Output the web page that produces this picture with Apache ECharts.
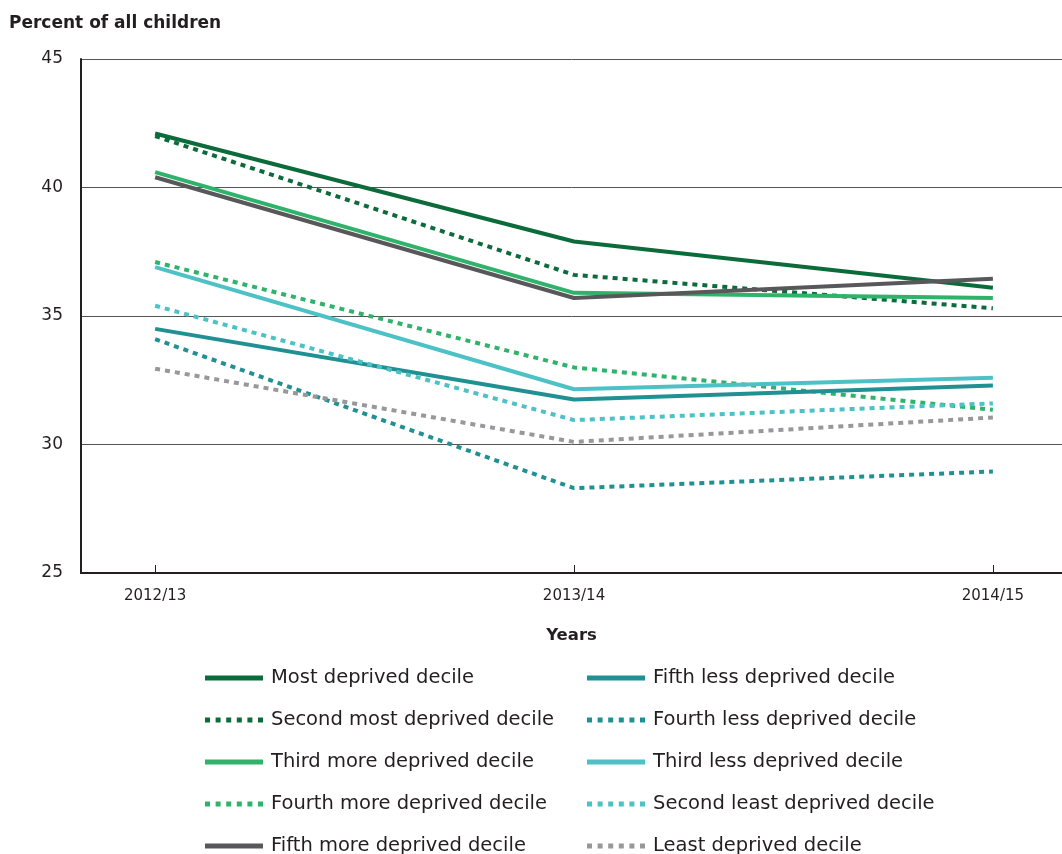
<!DOCTYPE html>
<html>
<head>
<meta charset="utf-8">
<script src="https://cdn.jsdelivr.net/npm/echarts@6/dist/echarts.min.js"></script>
<style>html,body{margin:0;padding:0;background:#fff}#c{width:1062px;height:854px}</style>
</head>
<body>
<div id="c"></div>
<script>
var years = ['2012/13', '2013/14', '2014/15'];
var yTicks = [25, 30, 35, 40, 45];

var mostDeprived        = [42.1, 37.9, 36.1];
var secondMostDeprived  = [42.0, 36.6, 35.3];
var thirdMoreDeprived   = [40.6, 35.9, 35.7];
var fourthMoreDeprived  = [37.1, 33.0, 31.35];
var fifthMoreDeprived   = [40.4, 35.7, 36.45];
var fifthLessDeprived   = [34.5, 31.75, 32.3];
var fourthLessDeprived  = [34.1, 28.3, 28.95];
var thirdLessDeprived   = [36.9, 32.15, 32.6];
var secondLeastDeprived = [35.4, 30.95, 31.6];
var leastDeprived       = [32.95, 30.1, 31.05];

var FONT = 'DejaVu Sans';
var TXT = '#231f20';
function pts(arr){ return arr.map(function(v,i){ return [i, v]; }); }
function mk(name, data, color, dotted){
  return {
    name: name, type: 'line', data: pts(data), symbol: 'none', silent: true,
    lineStyle: {color: color, width: 4, type: dotted ? [5, 5] : 'solid', cap: 'butt'},
    itemStyle: {color: color},
    _dotted: dotted
  };
}
var series = [
  mk('Most deprived decile', mostDeprived, '#0c6b3a', false),
  mk('Second most deprived decile', secondMostDeprived, '#0c6b3a', true),
  mk('Third more deprived decile', thirdMoreDeprived, '#2fb36b', false),
  mk('Fourth more deprived decile', fourthMoreDeprived, '#2fb36b', true),
  mk('Fifth more deprived decile', fifthMoreDeprived, '#58585a', false),
  mk('Fifth less deprived decile', fifthLessDeprived, '#1f9192', false),
  mk('Fourth less deprived decile', fourthLessDeprived, '#1f9192', true),
  mk('Third less deprived decile', thirdLessDeprived, '#4cc2c6', false),
  mk('Second least deprived decile', secondLeastDeprived, '#4cc2c6', true),
  mk('Least deprived decile', leastDeprived, '#98989b', true)
];

var DOT_ICON = 'path://M0,0h5v5h-5z M10.6,0h5v5h-5z M21.2,0h5v5h-5z M31.8,0h5v5h-5z M42.4,0h5v5h-5z M53,0h5v5h-5z';
var rowCenters = [678, 720, 762, 804, 846];
var colLeft = [205, 587];
var legends = series.map(function(s, i){
  var col = i < 5 ? 0 : 1, row = i % 5;
  return {
    left: colLeft[col], top: rowCenters[row] - 12, padding: 0,
    orient: 'horizontal', itemWidth: 58, itemHeight: 5, selectedMode: false,
    data: [{name: s.name, icon: s._dotted ? DOT_ICON : 'rect'}],
    itemStyle: {color: s.lineStyle.color, borderWidth: 0},
    textStyle: {fontFamily: FONT, fontSize: 19.5, color: TXT, lineHeight: 24, height: 24, padding: [0, 0, 0, 3]}
  };
});
series.forEach(function(s){ delete s._dotted; });

var chart = echarts.init(document.getElementById('c'), null, {renderer: 'canvas'});
chart.setOption({
  animation: false,
  backgroundColor: '#fff',
  title: {
    text: 'Percent of all children', left: 9, top: 15, padding: 0,
    textStyle: {fontFamily: FONT, fontSize: 17, fontWeight: 'bold', color: TXT}
  },
  grid: {left: 81, right: 0, top: 59, bottom: 281},
  xAxis: {
    type: 'value', min: -0.177, max: 2.165,
    name: 'Years', nameLocation: 'middle', nameGap: 54,
    nameTextStyle: {fontFamily: FONT, fontSize: 16.5, fontWeight: 'bold', color: TXT},
    axisLine: {show: true, onZero: false, lineStyle: {color: TXT, width: 2}},
    axisTick: {show: true, inside: true, length: 8, customValues: [0, 1, 2], lineStyle: {color: TXT, width: 1}},
    axisLabel: {customValues: [0, 1, 2], margin: 16, fontFamily: FONT, fontSize: 15, color: TXT,
      formatter: function(v){ return years[Math.round(v)]; }},
    splitLine: {show: false}
  },
  yAxis: {
    type: 'value', min: yTicks[0], max: yTicks[yTicks.length-1], interval: 5,
    axisLine: {show: true, onZero: false, lineStyle: {color: TXT, width: 2}},
    axisTick: {show: false},
    axisLabel: {margin: 18, fontFamily: FONT, fontSize: 17, color: TXT},
    splitLine: {show: true, lineStyle: {color: '#555', width: 1}}
  },
  legend: legends,
  series: series
});
</script>
</body>
</html>
